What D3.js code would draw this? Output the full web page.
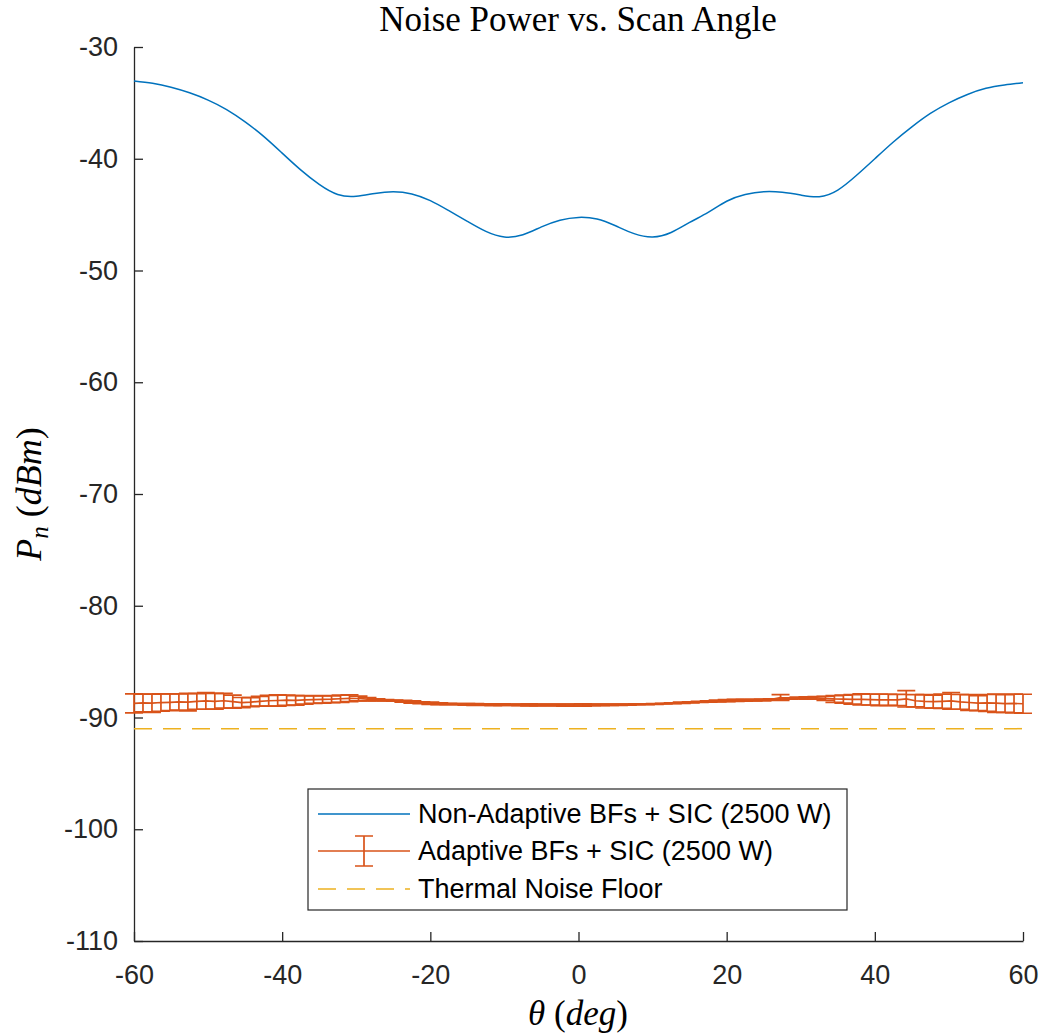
<!DOCTYPE html>
<html>
<head>
<meta charset="utf-8">
<script src="https://cdn.jsdelivr.net/npm/d3@7"></script>
<style>
  body { margin: 0; background: #fff; }
  text { font-family: "Liberation Sans", Arial, sans-serif; }
</style>
</head>
<body>
<div id="chart"></div>
<script>
// blue curve, read every 2.5 deg
var angleBlue = d3.range(-60, 60.01, 2.5);
var nonAdaptive = [-33.04, -33.25, -33.6, -34.1, -34.75, -35.6, -36.7, -38.0, -39.5, -41.0,
  -42.3, -43.2, -43.35, -43.1, -42.95, -43.15, -43.75, -44.65, -45.6, -46.5,
  -47.0, -46.8, -46.1, -45.5, -45.25, -45.4, -46.0, -46.7, -47.0, -46.6,
  -45.7, -44.8, -43.8, -43.2, -42.95, -43.0, -43.25, -43.4, -42.8, -41.5,
  -40.0, -38.5, -37.15, -35.95, -35.0, -34.25, -33.7, -33.4, -33.2];

// adaptive: 100 angles from -60 to 60
var angleAdapt = d3.range(100).map(function(i){ return -60 + i * 120 / 99; });
var adaptiveMean = [
  -88.74,-88.70,-88.72,-88.66,-88.64,-88.61,-88.63,-88.56,-88.52,-88.55,
  -88.50,-88.58,-88.66,-88.62,-88.55,-88.50,-88.48,-88.45,-88.47,-88.42,
  -88.40,-88.38,-88.36,-88.32,-88.28,-88.30,-88.36,-88.42,-88.46,-88.49,
  -88.55,-88.62,-88.68,-88.73,-88.76,-88.79,-88.81,-88.82,-88.83,-88.84,
  -88.85,-88.85,-88.86,-88.87,-88.87,-88.88,-88.88,-88.88,-88.89,-88.88,
  -88.88,-88.87,-88.87,-88.86,-88.85,-88.84,-88.82,-88.81,-88.79,-88.76,
  -88.72,-88.68,-88.64,-88.60,-88.56,-88.53,-88.49,-88.47,-88.45,-88.44,
  -88.43,-88.38,-88.22,-88.30,-88.26,-88.25,-88.24,-88.28,-88.34,-88.36,
  -88.38,-88.38,-88.40,-88.42,-88.42,-88.43,-88.33,-88.50,-88.55,-88.58,
  -88.55,-88.52,-88.60,-88.66,-88.72,-88.70,-88.72,-88.75,-88.74,-88.77];
var adaptiveErr = [
  0.85,0.80,0.82,0.78,0.75,0.72,0.78,0.70,0.74,0.70,
  0.66,0.58,0.45,0.40,0.44,0.48,0.50,0.46,0.42,0.38,
  0.33,0.34,0.30,0.32,0.30,0.22,0.15,0.10,0.06,0.05,
  0.08,0.10,0.09,0.10,0.08,0.06,0.05,0.07,0.08,0.06,
  0.08,0.07,0.06,0.08,0.09,0.08,0.07,0.08,0.10,0.09,
  0.10,0.08,0.07,0.06,0.06,0.05,0.04,0.03,0.03,0.03,
  0.04,0.05,0.05,0.04,0.06,0.08,0.10,0.09,0.08,0.07,
  0.08,0.06,0.26,0.06,0.08,0.10,0.12,0.18,0.30,0.36,
  0.42,0.50,0.48,0.52,0.50,0.50,0.73,0.55,0.60,0.58,
  0.64,0.74,0.66,0.70,0.67,0.76,0.82,0.80,0.84,0.85];

var thermalFloor = -91;

var xTicks = [-60, -40, -20, 0, 20, 40, 60];
var yTicks = [-30, -40, -50, -60, -70, -80, -90, -100, -110];
var legendLabels = ["Non-Adaptive BFs + SIC (2500 W)", "Adaptive BFs + SIC (2500 W)", "Thermal Noise Floor"];

var width = 1044, height = 1036;
var blue = "#0072BD", orange = "#D95319", yellow = "#EDB120", axisCol = "#262626";

var svg = d3.select("#chart").append("svg")
  .attr("width", width)
  .attr("height", height);

var x = d3.scaleLinear().domain([-60, 60]).range([134, 1023]);
var y = d3.scaleLinear().domain([-110, -30]).range([941, 47]);

// axes, hyphen minus like matlab
var fmt = function(d){ return String(d); };
var xAxis = d3.axisBottom(x).tickValues(xTicks).tickFormat(fmt).tickSizeInner(-9).tickSizeOuter(0).tickPadding(24);
var yAxis = d3.axisLeft(y).tickValues(yTicks).tickFormat(fmt).tickSizeInner(-9).tickSizeOuter(0).tickPadding(16);

var gx = svg.append("g").attr("transform", "translate(0,941)").call(xAxis);
var gy = svg.append("g").attr("transform", "translate(134,0)").call(yAxis);
[gx, gy].forEach(function(g){
  g.selectAll("path, line").attr("stroke", axisCol).attr("stroke-width", 1.3);
  g.selectAll("text").attr("fill", axisCol)
    .style("font-family", "'Liberation Sans', Arial, sans-serif")
    .style("font-size", "27px");
});

// thermal floor
svg.append("line")
  .attr("x1", x(-60)).attr("x2", x(60))
  .attr("y1", y(thermalFloor)).attr("y2", y(thermalFloor))
  .attr("stroke", yellow).attr("stroke-width", 1.5)
  .attr("stroke-dasharray", "18,11");

// blue curve
var line = d3.line().x(function(d){ return x(d[0]); }).y(function(d){ return y(d[1]); })
  .curve(d3.curveNatural);
svg.append("path")
  .datum(angleBlue.map(function(a, i){ return [a, nonAdaptive[i]]; }))
  .attr("d", line)
  .attr("fill", "none").attr("stroke", blue).attr("stroke-width", 1.5);

// adaptive error bars
var adapt = angleAdapt.map(function(a, i){ return { a: a, m: adaptiveMean[i], e: adaptiveErr[i] }; });
var cap = 9;
var eb = svg.append("g").attr("stroke", orange).attr("stroke-width", 1.7).attr("fill", "none");
eb.append("path")
  .datum(adapt)
  .attr("d", d3.line().x(function(d){ return x(d.a); }).y(function(d){ return y(d.m); }));
var bars = eb.selectAll(".bar").data(adapt).enter().append("path").attr("class", "bar");
bars.attr("d", function(d){
  var cx = x(d.a), t = y(d.m + d.e), b = y(d.m - d.e);
  return "M" + cx + "," + t + "V" + b +
         "M" + (cx - cap) + "," + t + "H" + (cx + cap) +
         "M" + (cx - cap) + "," + b + "H" + (cx + cap);
});

// title and labels
var serif = "'Liberation Serif', 'Times New Roman', serif";
svg.append("text")
  .attr("x", 578).attr("y", 31)
  .attr("text-anchor", "middle")
  .style("font-family", serif)
  .style("font-size", "35px")
  .attr("fill", "#000")
  .text("Noise Power vs. Scan Angle");

var ylab = svg.append("text")
  .attr("transform", "translate(41,494) rotate(-90)")
  .attr("text-anchor", "middle")
  .style("font-family", serif)
  .style("font-size", "36px")
  .attr("fill", "#000");
ylab.append("tspan").style("font-style", "italic").text("P");
ylab.append("tspan").style("font-style", "italic").style("font-size", "25px").attr("dy", 7).text("n");
ylab.append("tspan").attr("dy", -7).text("\u00a0(");
ylab.append("tspan").style("font-style", "italic").text("dBm");
ylab.append("tspan").text(")");

var xlab = svg.append("text")
  .attr("x", 578).attr("y", 1025)
  .attr("text-anchor", "middle")
  .style("font-family", serif)
  .style("font-size", "35px")
  .attr("fill", "#000");
xlab.append("tspan").style("font-style", "italic").text("\u03b8");
xlab.append("tspan").text("\u00a0(");
xlab.append("tspan").style("font-style", "italic").text("deg");
xlab.append("tspan").text(")");

// legend
var lg = svg.append("g");
lg.append("rect")
  .attr("x", 308).attr("y", 789).attr("width", 539).attr("height", 121)
  .attr("fill", "#fff").attr("stroke", axisCol).attr("stroke-width", 1.2);
var rowY = [814, 851, 889];
lg.append("line").attr("x1", 318).attr("x2", 410).attr("y1", rowY[0]).attr("y2", rowY[0])
  .attr("stroke", blue).attr("stroke-width", 1.5);
lg.append("line").attr("x1", 318).attr("x2", 410).attr("y1", rowY[1]).attr("y2", rowY[1])
  .attr("stroke", orange).attr("stroke-width", 1.5);
lg.append("path")
  .attr("d", "M364," + (rowY[1] - 15) + "V" + (rowY[1] + 15) +
             "M355," + (rowY[1] - 15) + "H373M355," + (rowY[1] + 15) + "H373")
  .attr("stroke", orange).attr("stroke-width", 1.7).attr("fill", "none");
lg.append("line").attr("x1", 318).attr("x2", 410).attr("y1", rowY[2]).attr("y2", rowY[2])
  .attr("stroke", yellow).attr("stroke-width", 1.5).attr("stroke-dasharray", "18,11");
lg.selectAll(".lt").data(legendLabels).enter().append("text")
  .attr("x", 418)
  .attr("y", function(d, i){ return rowY[i]; })
  .attr("dy", "0.35em")
  .style("font-size", "27px")
  .attr("fill", "#000")
  .text(function(d){ return d; });
</script>
</body>
</html>
